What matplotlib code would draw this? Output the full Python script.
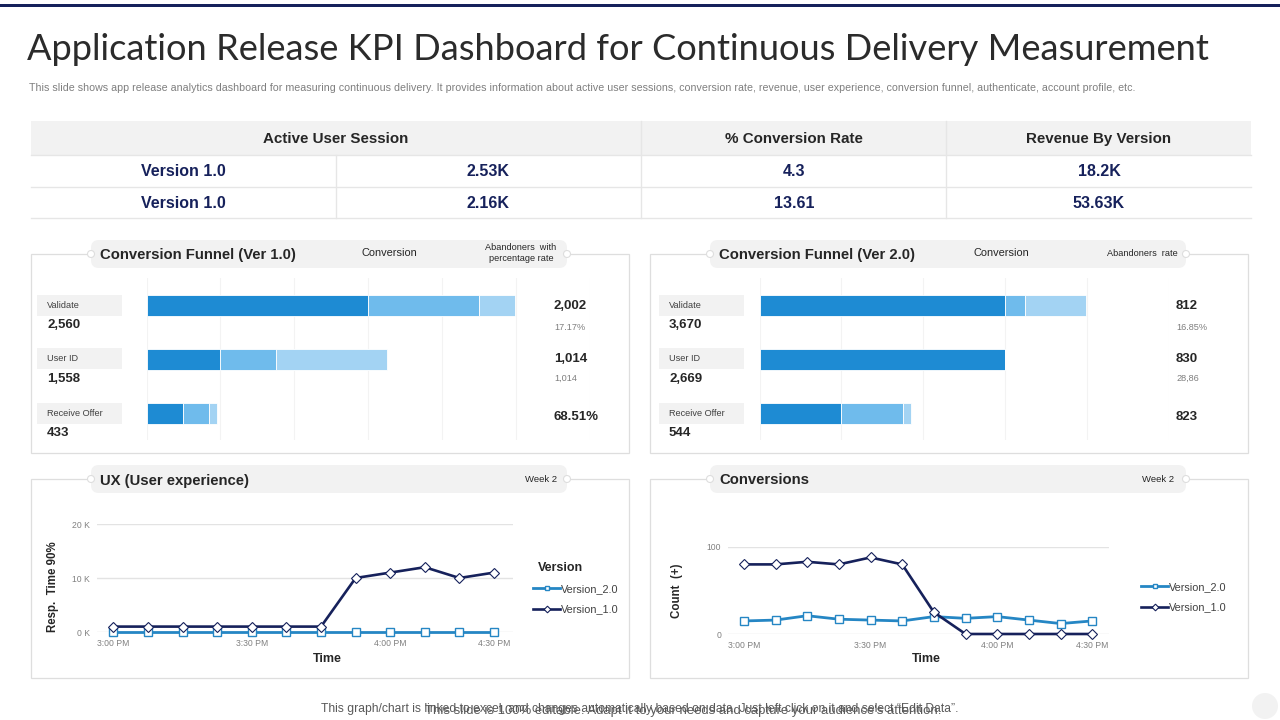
import matplotlib
matplotlib.use("Agg")
import matplotlib.pyplot as plt
from matplotlib.patches import Rectangle, FancyBboxPatch, Circle

# table
table_headers = ["Active User Session", "% Conversion Rate", "Revenue By Version"]
table_versions = ["Version 1.0", "Version 1.0"]
table_sessions = ["2.53K", "2.16K"]
table_rates = ["4.3", "13.61"]
table_revenue = ["18.2K", "53.63K"]

# funnels
funnel_steps = ["Validate", "User ID", "Receive Offer"]
v1_totals = ["2,560", "1,558", "433"]
v1_seg1 = [1500, 500, 245]
v1_seg2 = [750, 380, 176]
v1_seg3 = [246, 750, 54]
v1_abandon = ["2,002", "1,014", "68.51%"]
v1_rates = ["17.17%", "1,014", ""]

v2_totals = ["3,670", "2,669", "544"]
v2_seg1 = [1500, 1500, 500]
v2_seg2 = [125, 0, 378]
v2_seg3 = [370, 0, 50]
v2_abandon = ["812", "830", "823"]
v2_rates = ["16.85%", "28,86", ""]

# line charts
time_idx = list(range(12))
time_ticks = [0, 4, 8, 11]
time_labels = ["3:00 PM", "3:30 PM", "4:00 PM", "4:30 PM"]
ux_v1 = [1, 1, 1, 1, 1, 1, 1, 10, 11, 12, 10, 11]
ux_v2 = [0, 0, 0, 0, 0, 0, 0, 0, 0, 0, 0, 0]
conv_v1 = [80, 80, 83, 80, 88, 80, 25, 0, 0, 0, 0, 0]
conv_v2 = [15, 16, 21, 17, 16, 15, 20, 18, 20, 16, 12, 15]

NAVY = "#16215B"
BLUE = "#2586C4"
BAR1 = "#1E8BD3"
BAR2 = "#6FBBEC"
BAR3 = "#A3D3F3"
GREY = "#F2F2F2"
LINE = "#DEDEDE"
DARK = "#262626"

W, H = 1280, 720
plt.rcParams["font.family"] = ["Liberation Sans", "DejaVu Sans"]
fig = plt.figure(figsize=(12.8, 7.2), dpi=100)

bg = fig.add_axes([0, 0, 1, 1])
bg.set_xlim(0, W)
bg.set_ylim(H, 0)
bg.axis("off")


def px_axes(x0, y0, x1, y1):
    ax = fig.add_axes([x0 / W, 1 - y1 / H, (x1 - x0) / W, (y1 - y0) / H])
    ax.patch.set_alpha(0)
    return ax


def label(x, y, s, size=9, color=DARK, ha="left", weight="normal", **kw):
    bg.text(x, y + 1, s, fontsize=size, color=color, ha=ha, va="center", fontweight=weight, **kw)


# top bar and title
bg.add_patch(Rectangle((0, 4), W, 3, color=NAVY, lw=0))
label(27, 49, "Application Release KPI Dashboard for Continuous Delivery Measurement",
      size=26.1, color="#2B2B2B", family="Lato")
label(29, 87, "This slide shows app release analytics dashboard for measuring continuous delivery. "
      "It provides information about active user sessions, conversion rate, revenue, user experience, "
      "conversion funnel, authenticate, account profile, etc.", size=7.67, color="#7F7F7F")

# table
bg.add_patch(Rectangle((31, 121), 1220, 34, color=GREY, lw=0))
for y in [155, 187, 218]:
    bg.plot([31, 1251], [y, y], color="#E6E6E6", lw=1)
for x, y0 in [(336, 155), (641, 121), (946, 121)]:
    bg.plot([x, x], [y0, 218], color="#E6E6E6", lw=1)
for cx, s in zip([336, 794, 1099], table_headers):
    label(cx, 138, s, size=10.9, ha="center", weight="bold")
for i, y in enumerate([170, 202]):
    label(183, y, table_versions[i], size=11.5, color=NAVY, ha="center", weight="bold")
    label(488, y, table_sessions[i], size=11.5, color=NAVY, ha="center", weight="bold")
    label(794, y, table_rates[i], size=11.5, color=NAVY, ha="center", weight="bold")
    label(1099, y, table_revenue[i], size=11.5, color=NAVY, ha="center", weight="bold")


def panel(x0, y0, title, pill_x0, title_dy=0.5):
    # box with the grey header pill sitting on its top edge
    bg.add_patch(Rectangle((x0, y0), 598, 199, fill=False, ec=LINE, lw=0.9))
    bg.add_patch(FancyBboxPatch((pill_x0 + 3.5, y0 - 10.5), 469, 21,
                                boxstyle="round,pad=0,rounding_size=4", mutation_aspect=1,
                                fc=GREY, ec=GREY, lw=5, zorder=3))
    for cx in [pill_x0, pill_x0 + 476]:
        bg.add_patch(Circle((cx, y0), 3.5, fc="white", ec=LINE, lw=0.8, zorder=4))
    bg.text(pill_x0 + 9, y0 + title_dy, title, fontsize=10.7, fontweight="bold", color=DARK,
            va="center", zorder=5)


def head_note(x, y, s, size=6.6, ha="center"):
    bg.text(x, y, s, fontsize=size, color=DARK, ha=ha, va="center", zorder=5, linespacing=1.3)


panel(31, 254, "Conversion Funnel (Ver 1.0)", 91)
panel(650, 254, "Conversion Funnel (Ver 2.0)", 710)
panel(31, 479, "UX (User experience)", 91, title_dy=1.5)
panel(650, 479, "Conversions", 710)

head_note(389, 253.5, "Conversion", size=7.9)
head_note(521, 253, "Abandoners  with\npercentage rate")
head_note(1001, 253.5, "Conversion", size=7.9)
head_note(1142, 254, "Abandoners  rate")
head_note(541, 479, "Week 2", size=6.8)
head_note(1158, 480, "Week 2", size=6.8)


def funnel(x_axes, xmax, seg1, seg2, seg3, totals, abandon, rates, left_x, val_x):
    ax = px_axes(x_axes[0], 278, x_axes[1], 440)
    y = [0, 1, 2]
    ax.barh(y, seg1, height=0.39, color=BAR1, edgecolor="white", lw=0.6)
    ax.barh(y, seg2, left=seg1, height=0.39, color=BAR2, edgecolor="white", lw=0.6)
    left3 = [a + b for a, b in zip(seg1, seg2)]
    ax.barh(y, seg3, left=left3, height=0.39, color=BAR3, edgecolor="white", lw=0.6)
    ax.set_xlim(0, xmax)
    ax.set_ylim(2.49, -0.51)
    ax.set_xticks(range(0, xmax + 1, 500))
    ax.set_yticks([])
    ax.tick_params(length=0, labelbottom=False)
    ax.grid(axis="x", color="#F3F3F3", lw=0.8)
    ax.set_axisbelow(True)
    for s in ax.spines.values():
        s.set_visible(False)
    for i, (yb, yt) in enumerate(zip([295, 348, 403], [325, 378, 432])):
        bg.add_patch(Rectangle((left_x, yb), 85, 21, color=GREY, lw=0))
        label(left_x + 10, yb + 9.5, funnel_steps[i], size=6.6, color="#404040")
        label(left_x + 10, yt - 0.5, totals[i], size=9.5, weight="bold")
    for yv, ys, a, r in zip([305, 358, 416], [327, 377, 0], abandon, rates):
        label(val_x, yv, a, size=9.5, weight="bold")
        if r:
            label(val_x, ys, r, size=6.6, color="#7F7F7F")


funnel((146.5, 589.5), 3000, v1_seg1, v1_seg2, v1_seg3, v1_totals, v1_abandon, v1_rates, 37, 554)
funnel((759.5, 1168.5), 2500, v2_seg1, v2_seg2, v2_seg3, v2_totals, v2_abandon, v2_rates, 659, 1176)


def line_chart(rect, xlim, ylim, yticks, yticklabels, v2, v1, ylabel, ylabel_y, xlabel_x, legend_pos):
    ax = px_axes(*rect)
    ax.plot(time_idx, v2, color=BLUE, lw=2, marker="s", ms=5.5, mfc="white", mew=1, label="Version_2.0", clip_on=False)
    ax.plot(time_idx, v1, color=NAVY, lw=1.9, marker="D", ms=5.2, mfc="white", mew=0.8, label="Version_1.0", clip_on=False)
    ax.set_xlim(*xlim)
    ax.set_ylim(*ylim)
    ax.set_xticks(time_ticks)
    ax.set_xticklabels(time_labels, fontsize=6.2, color="#808080")
    ax.set_yticks(yticks)
    ax.set_yticklabels(yticklabels, fontsize=6.2, color="#808080")
    ax.tick_params(length=0, pad=5)
    ax.grid(axis="y", color="#E3E3E3", lw=1)
    ax.set_axisbelow(True)
    for s in ax.spines.values():
        s.set_visible(False)
    label(ylabel[1], ylabel_y, ylabel[0], size=8.3, ha="center", weight="bold", rotation=90)
    label(xlabel_x, 658, "Time", size=9, ha="center", weight="bold")
    leg = ax.legend(loc="upper left", bbox_to_anchor=(legend_pos[0] / W, 1 - legend_pos[1] / H),
                    bbox_transform=fig.transFigure, frameon=False, fontsize=7.8, markerscale=0.65,
                    handlelength=2.5, handletextpad=0.12, labelspacing=0.95, borderpad=0, borderaxespad=0)
    for t in leg.get_texts():
        t.set_color("#404040")


line_chart((97, 524, 513, 632), (-0.477, 11.55), (0, 20), [0, 10, 20], ["0 K", "10 K", "20 K"],
           ux_v2, ux_v1, ("Resp.  Time 90%", 53), 586, 327, (533, 584))
label(538, 567, "Version", size=9, weight="bold")
line_chart((728, 547, 1109, 634), (-0.5, 11.53), (0, 100), [0, 100], ["0", "100"],
           conv_v2, conv_v1, ("Count  (+)", 677), 590, 926, (1141, 582))

# footer notes overlap on the source slide
label(640, 708, "This graph/chart is linked to excel, and changes automatically based on data. "
      "Just left click on it and select \u201cEdit Data\u201d.", size=8.7, color="#595959", ha="center")
label(683.5, 710, "This slide is 100% editable. Adapt it to your needs and capture your audience's attention.",
      size=9.45, color="#595959", ha="center")
bg.add_patch(Circle((1265, 706), 13, fc="#F2F2F2", ec="none"))

fig.savefig("out.png", dpi=100)
